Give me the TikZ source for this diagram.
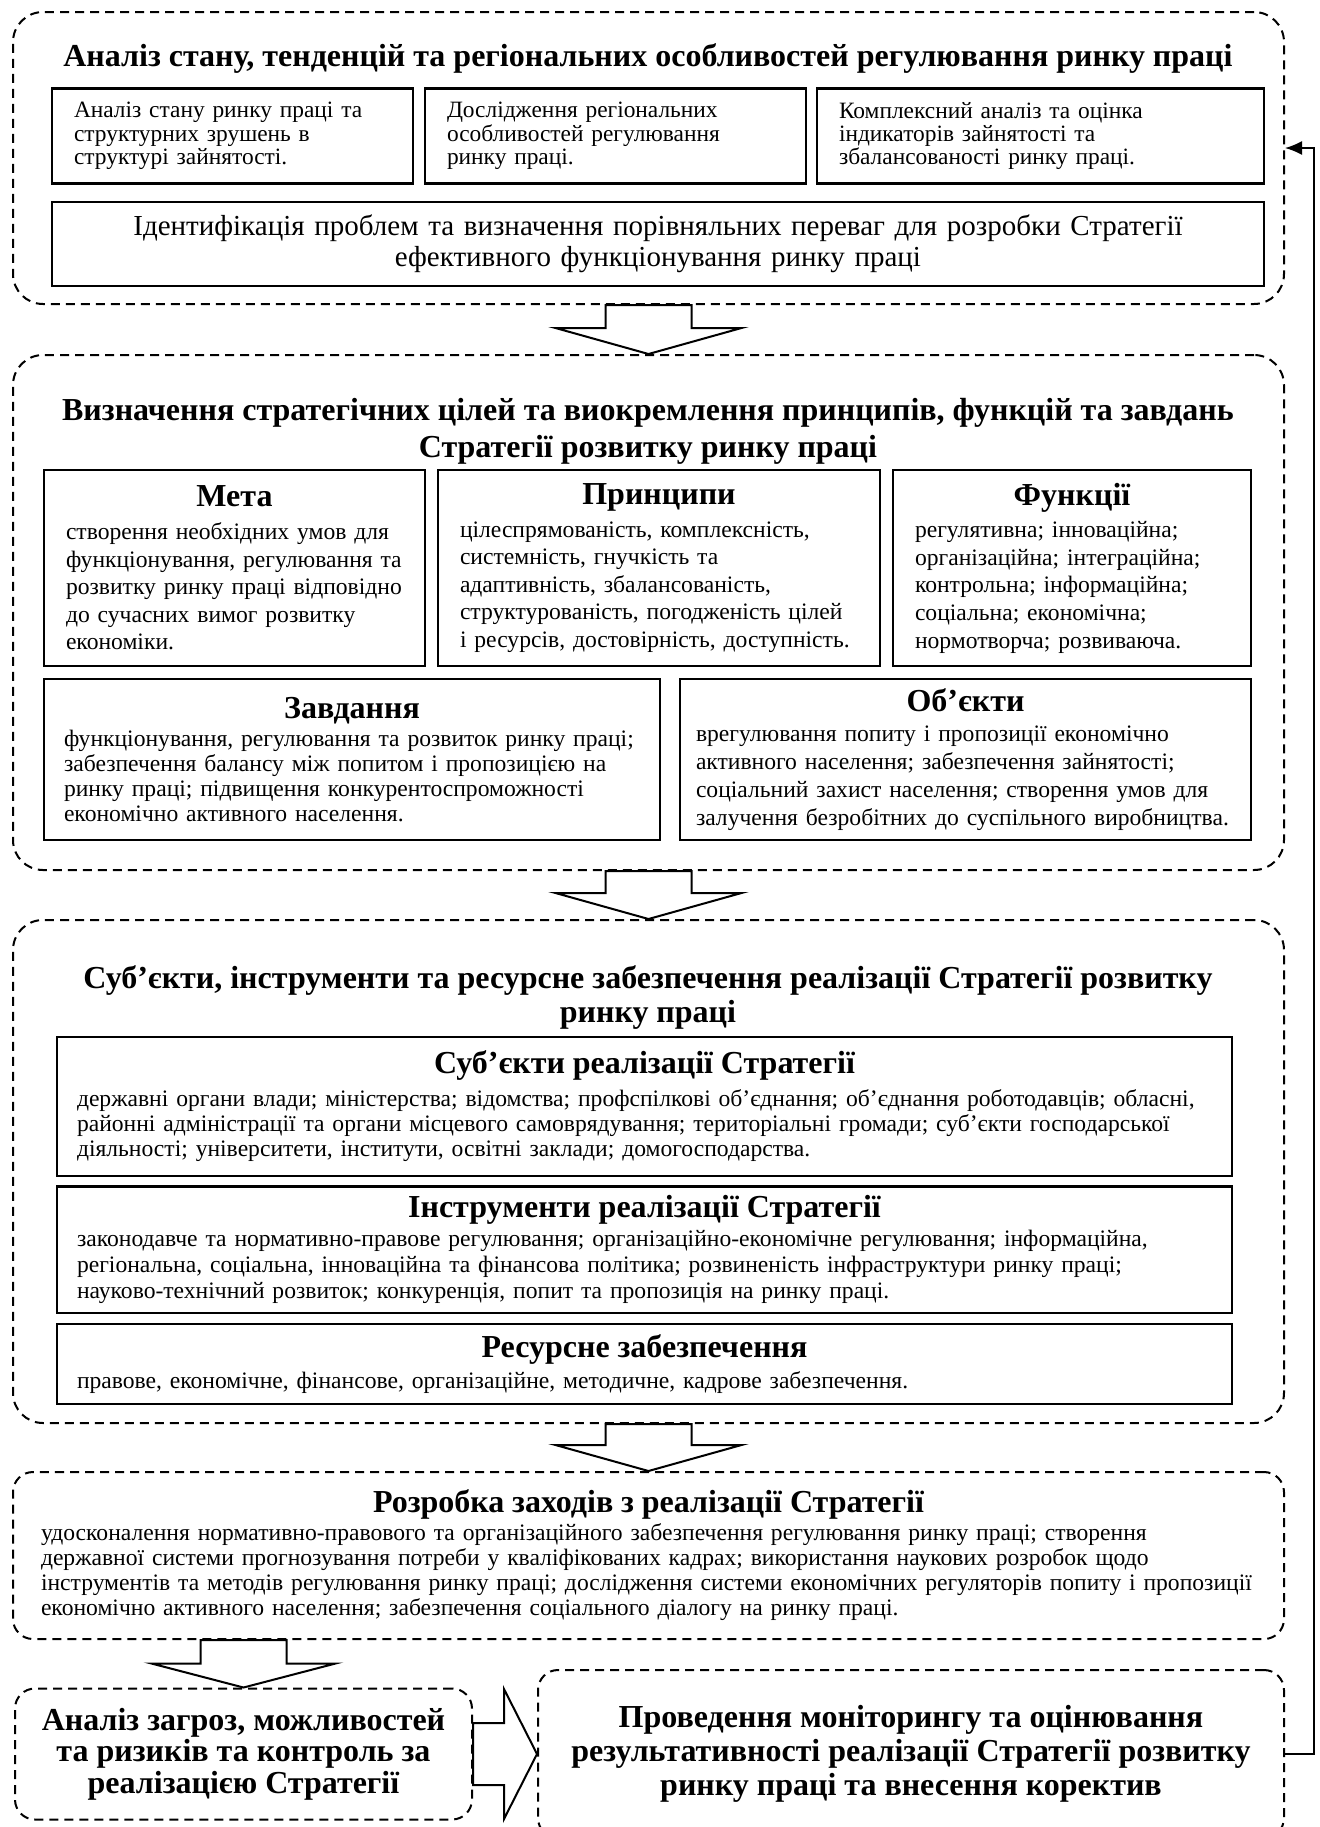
\documentclass[tikz,border=0pt]{standalone}
\usepackage{fontspec}
\setmainfont{Liberation Serif}
\usetikzlibrary{positioning,calc,arrows.meta}
\setlength{\parindent}{0pt}

\newcommand{\bodysize}[1]{\fontsize{11.8}{#1}\selectfont}
\newcommand{\cellhead}[2][2pt]{{\centering\bfseries\fontsize{16}{17}\selectfont #2\par}\vspace{#1}}

\begin{document}
\begin{tikzpicture}[x=0.5pt,y=-0.5pt,
    stage/.style={draw, line width=1pt, dash pattern=on 4.5pt off 3pt, rounded corners=15pt},
    cell/.style={draw, line width=1.1pt, inner xsep=10pt, inner ysep=0pt, align=left, font=\bodysize{13.8pt}},
    heading/.style={font=\bfseries\fontsize{16}{18}\selectfont, align=center},
    blockarrow/.style={draw, line width=1pt, fill=white},
    feedback/.style={line width=0.8pt, -{Latex[length=8.5pt,width=7pt]}},
  ]
  \clip (0,0) rectangle (1319,1827);

  %Stages
  \node[stage, minimum width=635.5pt, minimum height=146pt] (s1) at (648.5,158) {};
  \node[stage, minimum width=635.5pt, minimum height=257.5pt] (s2) at (648.5,612.5) {};
  \node[stage, minimum width=635.5pt, minimum height=251.5pt] (s3) at (648.5,1171.5) {};
  \node[stage, rounded corners=10pt, minimum width=635.5pt, minimum height=83.5pt,
        text width=607.5pt, inner xsep=14pt, align=left, font=\bodysize{12.5pt}] (s4) at (648.5,1555.5)
    {\cellhead[1.5pt]{Розробка заходів з реалізації Стратегії}
     удосконалення нормативно-правового та організаційного забезпечення регулювання ринку праці; створення\\
     державної системи прогнозування потреби у кваліфікованих кадрах; використання наукових розробок щодо\\
     інструментів та методів регулювання ринку праці; дослідження системи економічних регуляторів попиту і пропозиції\\
     економічно активного населення; забезпечення соціального діалогу на ринку праці.};
  \node[stage, rounded corners=10pt, minimum width=228.5pt, minimum height=65.5pt,
        align=center, font=\bfseries\fontsize{16}{15.8}\selectfont] (s5) at (243.5,1754)
    {Аналіз загроз, можливостей\\та ризиків та контроль за\\реалізацією Стратегії};
  \node[stage, rounded corners=10pt, minimum width=373pt, minimum height=84pt,
        align=center, font=\bfseries\fontsize{16}{17}\selectfont] (s6) at (911,1754)
    {Проведення моніторингу та оцінювання\\результативності реалізації Стратегії розвитку\\ринку праці та внесення коректив};

  %Stage 1
  \node[heading] (t1) at (648,58) {Аналіз стану, тенденцій та регіональних особливостей регулювання ринку праці};
  \node[cell, inner xsep=11pt, text width=158.5pt, minimum height=47.5pt, font=\fontsize{11.7}{11.7}\selectfont] (a1) at (232.5,136)
    {Аналіз стану ринку праці та\\структурних зрушень в\\структурі зайнятості.};
  \node[cell, inner xsep=11pt, text width=168.5pt, minimum height=47.5pt, font=\fontsize{11.7}{11.7}\selectfont] (a2) at (615.5,136)
    {Дослідження регіональних\\особливостей регулювання\\ринку праці.};
  \node[cell, inner xsep=11pt, text width=201.5pt, minimum height=47.5pt, font=\fontsize{11.7}{11.7}\selectfont] (a3) at (1040.5,136)
    {Комплексний аналіз та оцінка\\індикаторів зайнятості та\\збалансованості ринку праці.};
  \node[cell, text width=586pt, minimum height=42pt, align=center, font=\fontsize{14.5}{15.5}\selectfont] (a4) at (658,244)
    {Ідентифікація проблем та визначення порівняльних переваг для розробки Стратегії\\ефективного функціонування ринку праці};

  %Stage 2
  \node[heading, font=\bfseries\fontsize{16}{18.5}\selectfont] (t2) at (648,431.5) {Визначення стратегічних цілей та виокремлення принципів, функцій та завдань\\Стратегії розвитку ринку праці};
  \node[cell, inner xsep=11pt, text width=168.5pt, minimum height=98pt] (b1) at (234.5,568)
    {\cellhead[2.5pt]{Мета}створення необхідних умов для\\функціонування, регулювання та\\розвитку ринку праці відповідно\\до сучасних вимог розвитку\\економіки.};
  \node[cell, inner xsep=11pt, text width=199pt, minimum height=98pt] (b2) at (659,568)
    {\cellhead[2.5pt]{Принципи}цілеспрямованість, комплексність,\\системність, гнучкість та\\адаптивність, збалансованість,\\структурованість, погодженість цілей\\і ресурсів, достовірність, доступність.};
  \node[cell, inner xsep=11pt, text width=157pt, minimum height=98pt] (b3) at (1072,568)
    {\cellhead[2.5pt]{Функції}регулятивна; інноваційна;\\організаційна; інтеграційна;\\контрольна; інформаційна;\\соціальна; економічна;\\нормотворча; розвиваюча.};
  \node[cell, text width=288pt, minimum height=80.5pt, font=\bodysize{12.5pt}] (b4) at (352,759.5)
    {\cellhead[1.5pt]{Завдання}функціонування, регулювання та розвиток ринку праці;\\забезпечення балансу між попитом і пропозицією на\\ринку праці; підвищення конкурентоспроможності\\економічно активного населення.};
  \node[cell, inner xsep=8pt, text width=269.5pt, minimum height=80.5pt, font=\bodysize{14pt}] (b5) at (965.5,759.5)
    {\cellhead[1.3pt]{Об’єкти}врегулювання попиту і пропозиції економічно\\активного населення; забезпечення зайнятості;\\соціальний захист населення; створення умов для\\залучення безробітних до суспільного виробництва.};

  %Stage 3
  \node[heading, font=\bfseries\fontsize{16}{17}\selectfont] (t3) at (648,997) {Суб’єкти, інструменти та ресурсне забезпечення реалізації Стратегії розвитку\\ринку праці};
  \node[cell, text width=567.5pt, minimum height=69.5pt, font=\bodysize{12.5pt}] (c1) at (644.5,1106.5)
    {\cellhead[4pt]{Суб’єкти реалізації Стратегії}державні органи влади; міністерства; відомства; профспілкові об’єднання; об’єднання роботодавців; обласні,\\районні адміністрації та органи місцевого самоврядування; територіальні громади; суб’єкти господарської\\діяльності; університети, інститути, освітні заклади; домогосподарства.};
  \node[cell, text width=567.5pt, minimum height=63.25pt, font=\bodysize{13pt}] (c2) at (644.5,1249.75)
    {\cellhead[1.5pt]{Інструменти реалізації Стратегії}законодавче та нормативно-правове регулювання; організаційно-економічне регулювання; інформаційна,\\регіональна, соціальна, інноваційна та фінансова політика; розвиненість інфраструктури ринку праці;\\науково-технічний розвиток; конкуренція, попит та пропозиція на ринку праці.};
  \node[cell, text width=567.5pt, minimum height=40pt, font=\bodysize{12.5pt}] (c3) at (644.5,1364)
    {\cellhead[3pt]{Ресурсне забезпечення}правове, економічне, фінансове, організаційне, методичне, кадрове забезпечення.};

  %Arrows
  \foreach \from/\to in {s1/s2,s2/s3,s3/s4}{
    \draw[blockarrow] ($(\from.south)+(-43,0)$) -- ($(\to.north)+(-43,-26)$) -- ($(\to.north)+(-93,-26)$)
      -- (\to.north) -- ($(\to.north)+(93,-26)$) -- ($(\to.north)+(43,-26)$) -- ($(\from.south)+(43,0)$) -- cycle;
  }
  \draw[blockarrow] ($(s5.north |- s4.south)+(-43,0)$) -- ($(s5.north)+(-43,-24)$) -- ($(s5.north)+(-92,-24)$)
    -- (s5.north) -- ($(s5.north)+(92,-24)$) -- ($(s5.north)+(43,-24)$) -- ($(s5.north |- s4.south)+(43,0)$) -- cycle;
  \draw[blockarrow] ($(s5.east)+(0,-31)$) -- ($(s6.west |- s5.east)+(-33,-31)$) -- ($(s6.west |- s5.east)+(-33,-65)$)
    -- (s6.west |- s5.east) -- ($(s6.west |- s5.east)+(-33,65)$) -- ($(s6.west |- s5.east)+(-33,31)$) -- ($(s5.east)+(0,31)$) -- cycle;

  \draw[feedback] (s6.east) -- ++(29,0) |- ([yshift=5pt]s1.east);
\end{tikzpicture}
\end{document}
